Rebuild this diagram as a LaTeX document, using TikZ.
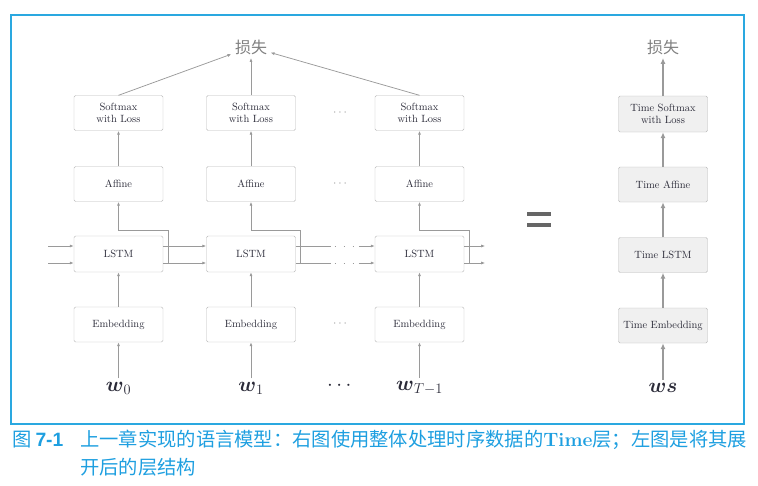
\documentclass[tikz,border=0pt]{standalone}
\usepackage{amsmath}
\usepackage{fontspec}
\newfontfamily\cjk{Noto Sans CJK SC}
\newfontfamily\capnum{Liberation Sans}
\usetikzlibrary{arrows.meta}
\definecolor{framecol}{HTML}{2AA8E0}
\definecolor{capcol}{HTML}{1E9FE0}
\definecolor{boxgray}{HTML}{B8B8B8}
\definecolor{arrgray}{HTML}{9A9A9A}
\definecolor{tboxfill}{HTML}{F0F0F0}
\definecolor{txtcol}{HTML}{2A2A38}
\definecolor{eqgray}{HTML}{666666}
\begin{document}
\begin{tikzpicture}[x=1pt,y=-1pt,>={Latex[length=4pt,width=3pt]},
	box/.style={draw=boxgray,rounded corners=1.5pt,minimum width=89pt,minimum height=35pt,
		inner sep=1pt,align=center,text=txtcol,font=\fontsize{10.5}{12}\selectfont},
	tbox/.style={box,fill=tboxfill},
	link/.style={draw=arrgray,line width=0.75pt,->},
	tlink/.style={draw=arrgray,line width=1.2pt,-{Latex[length=6pt,width=5pt]}},
	coldots/.style={text=arrgray,font=\fontsize{13}{15}\selectfont},
	wlab/.style={text=txtcol,font=\fontsize{20.74}{24}\selectfont},
	losslab/.style={text=gray,font=\cjk\fontsize{16}{18}\selectfont},
	caption/.style={anchor=west,inner sep=0pt,text=capcol,font=\cjk\fontsize{19.3}{22}\selectfont}]
	\useasboundingbox (0,0) rectangle (758,485);

	% draw the frame
	\draw[framecol,line width=1.5pt] (11,15) rectangle (744,424);

	% draw the unrolled layers
	\node[losslab] (loss) at (251,47) {损失};
	\foreach \i/\x/\wsub in {0/118.5/0,1/251/1,2/419.5/{T-1}} {
		\node[box] (sm\i) at (\x,113) {Softmax\\with Loss};
		\node[box] (af\i) at (\x,184) {Affine};
		\node[box,minimum height=36pt] (ls\i) at (\x,254) {LSTM};
		\node[box] (em\i) at (\x,324.5) {Embedding};
		\node[wlab] (w\i) at (\x,388) {$\boldsymbol{w}_{\wsub}$};
		% arrows going up
		\draw[link] (w\i) -- (em\i);
		\draw[link] (em\i) -- (ls\i);
		\draw[link] ([xshift=5pt,yshift=-9pt]ls\i.east) -- ++(0,-33) -| (af\i);
		\draw[link] (af\i) -- (sm\i);
		\draw[link] (sm\i.north) -- (loss);
	}

	% the dots between the columns
	\foreach \y in {113,184,324}
		\node[coldots] (gap\y) at (341,\y) {$\cdots$};
	\node[wlab] (wgap) at (341,386) {$\cdots$};

	% draw the horizontal connections of the LSTM layers
	\foreach \s/\n in {8/a,-9/b} {
		\coordinate (in\n) at (48,{254-\s});
		\draw[link] (in\n) -- (in\n -| ls0.west);
		\draw[link] ([yshift=\s pt]ls0.east) -- ([yshift=\s pt]ls1.west);
		\draw[arrgray,line width=0.75pt] ([yshift=\s pt]ls1.east) -- ++(35,0) coordinate (gap\n);
		\draw[arrgray,line width=1pt,dash pattern=on 1pt off 8pt] ([xshift=4pt]gap\n) -- ++(22,0);
		\draw[link] ([xshift=-16pt,yshift=\s pt]ls2.west) -- ([yshift=\s pt]ls2.west);
		\draw[link] ([yshift=\s pt]ls2.east) -- ++(21,0) coordinate (out\n);
	}

	% the equal sign
	\fill[eqgray] (527,211.5) rectangle (551,215.5);
	\fill[eqgray] (527,223) rectangle (551,227);

	% draw the Time layers
	\node[losslab] (tloss) at (663,47) {损失};
	\node[tbox,minimum height=36pt] (tsm) at (663,114) {Time Softmax\\with Loss};
	\node[tbox] (taf) at (663,184.5) {Time Affine};
	\node[tbox] (tls) at (663,255) {Time LSTM};
	\node[tbox] (tem) at (663,325.5) {Time Embedding};
	\node[wlab] (ws) at (663,388) {$\boldsymbol{ws}$};
	\draw[tlink] (ws) -- (tem);
	\draw[tlink] (tem) -- (tls);
	\draw[tlink] (tls) -- (taf);
	\draw[tlink] (taf) -- (tsm);
	\draw[tlink] (tsm) -- (tloss);

	% the caption
	\node[caption] (capno) at (12,440) {图\hspace{4pt}{\capnum\bfseries 7-1}};
	\node[caption] (capa) at (80,440) {上一章实现的语言模型：右图使用整体处理时序数据的{\rmfamily\bfseries Time}层；左图是将其展};
	\node[caption] (capb) at (80,467) {开后的层结构};
\end{tikzpicture}
\end{document}
